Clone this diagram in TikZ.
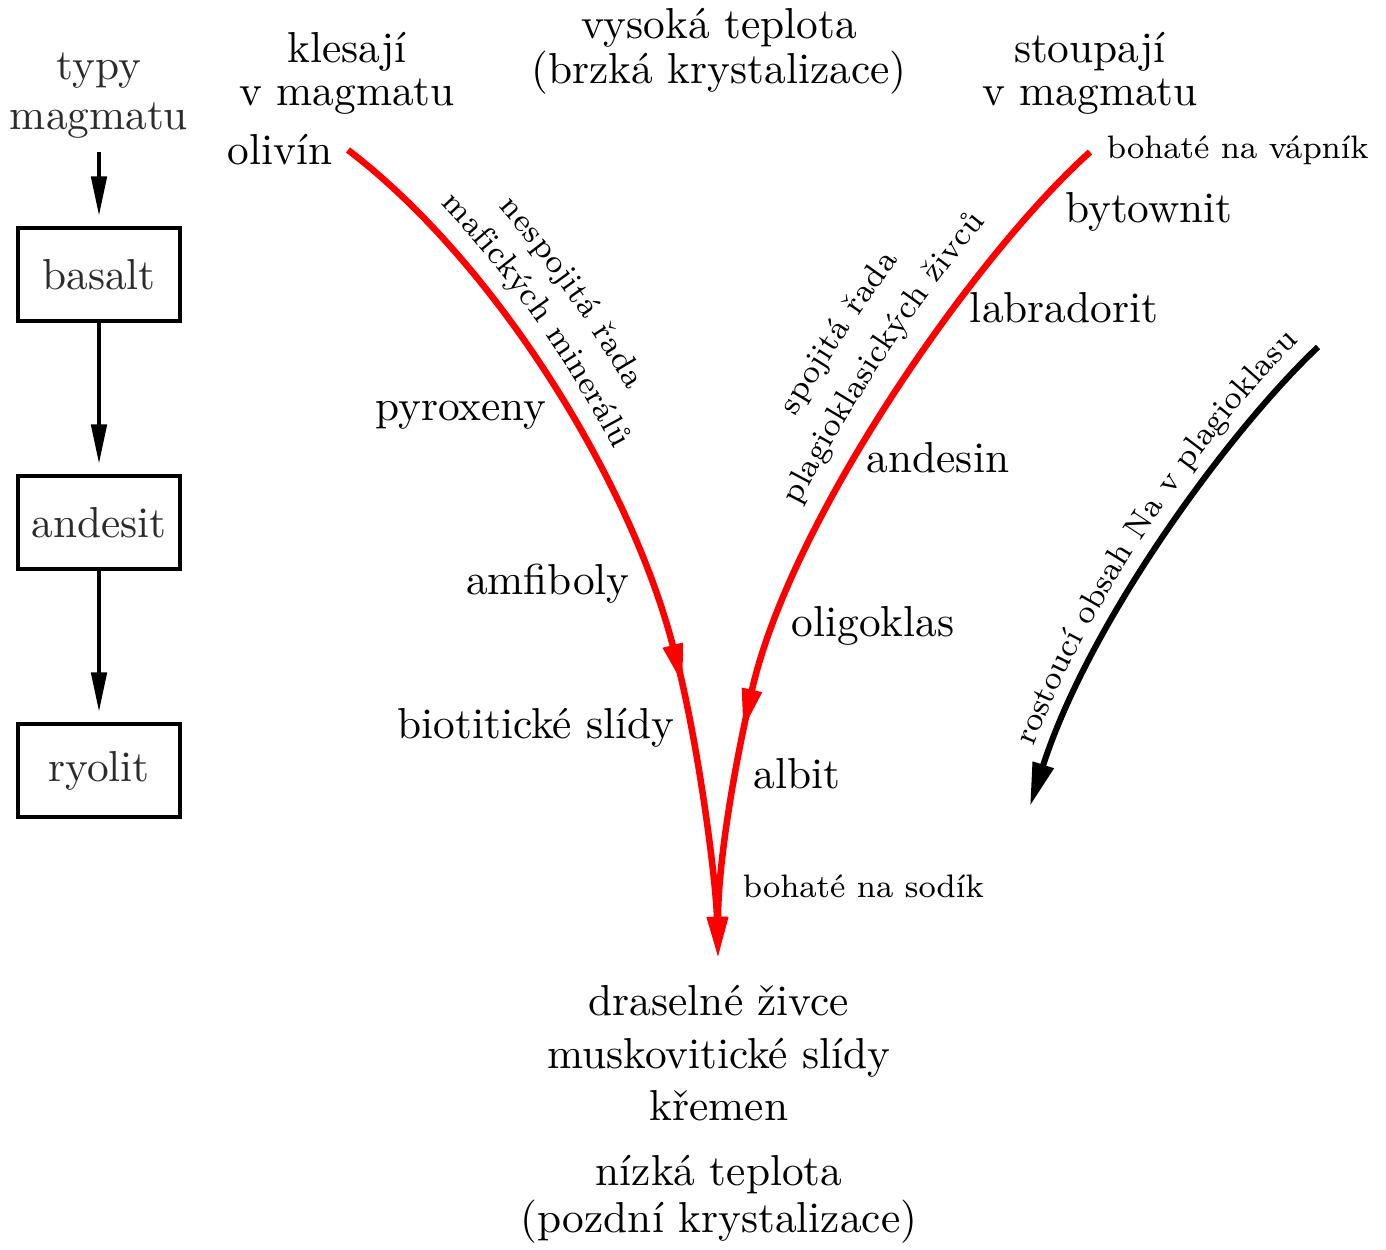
\documentclass[tikz,border=0pt]{standalone}
\usetikzlibrary{arrows.meta,decorations.text}
\definecolor{gtext}{gray}{0.17}
\newcommand\smfont{\fontsize{7.5}{9}\selectfont}
\begin{document}
\begin{tikzpicture}[x=0.2308pt,y=-0.2308pt,
  lbl/.style={anchor=base,inner sep=0pt},
  glbl/.style={lbl,text=gtext},
  box/.style={draw,line width=0.8pt,minimum width=37.4pt,minimum height=21.5pt,inner sep=0pt,text=gtext},
  garr/.style={line width=0.7pt,-{Triangle[length=9pt,width=3.6pt]}},
  redarr/.style={red,line width=1.5pt,-{Triangle[length=9.5pt,width=4.4pt]}},
  blkarr/.style={line width=1.4pt,-{Triangle[length=10pt,width=4.8pt]}},
  along/.style n args={3}{decorate,decoration={text along path,text={|\smfont|#1},raise=#2,text align={left indent=#3}}},
]
\useasboundingbox (0,0) rectangle (1386,1249);

% left column
\node[glbl] (typy1) at (99,79) {typy};
\node[glbl] (typy2) at (99,129) {magmatu};
\node[box] (basalt) at (99,274.5) {basalt};
\node[box] (andesit) at (99,522.5) {andesit};
\node[box] (ryolit) at (99,770.5) {ryolit};
\draw[garr,shorten <=3pt,shorten >=2.5pt] (typy2.south) -- (basalt.north);
\draw[garr,shorten >=2.5pt] (basalt.south) -- (andesit.north);
\draw[garr,shorten >=2.5pt] (andesit.south) -- (ryolit.north);

% top labels
\node[lbl] (kl1) at (347,62) {klesají};
\node[lbl] (kl2) at (347,105) {v magmatu};
\node[lbl] (vy1) at (719,38) {vysoká teplota};
\node[lbl] (vy2) at (719,83) {(brzká krystalizace)};
\node[lbl] (st1) at (1090,62) {stoupají};
\node[lbl] (st2) at (1090,105) {v magmatu};

% start / end points
\node[anchor=east,inner sep=3.4pt] (olivin) at (348,150) {olivín};
\node[anchor=west,inner sep=0pt,font=\smfont] (vapnik) at (1106,150) {bohaté na vápník};
\coordinate (cA) at (1090,152);
\coordinate (mL) at (683,685);
\coordinate (mLs) at (677,661);
\coordinate (mR) at (743,730);
\coordinate (mRs) at (748.5,705.6);
\coordinate (bot) at (718,958);

% red curves
\draw[redarr] (olivin.east) .. controls (495,262) and (630,480) .. (mL);
\draw[redarr] (cA) .. controls (975,255) and (790,520) .. (mR);
\draw[redarr] (mLs) .. controls (699,748) and (716,880) .. (bot);
\draw[redarr] (mRs) .. controls (731,784) and (718,870) .. (bot);

% black arrow
\coordinate (nA) at (1318,347);
\coordinate (nB) at (1030,806);
\draw[blkarr] (nA) .. controls (1230,430) and (1090,620) .. (nB);

% texts along the curves
\path[along={nespojitá řada}{14.4pt}{32.8pt}] (olivin.east) .. controls (495,262) and (630,480) .. (mL);
\path[along={mafických minerálů}{5pt}{23.7pt}] (olivin.east) .. controls (495,262) and (630,480) .. (mL);
\path[along={spojitá řada}{17pt}{69.5pt}] (mR) .. controls (790,520) and (975,255) .. (cA);
\path[along={plagioklasických živců}{6.5pt}{52.5pt}] (mR) .. controls (790,520) and (975,255) .. (cA);
\path[along={rostoucí obsah Na v plagioklasu}{4pt}{13pt}] (nB) .. controls (1090,620) and (1230,430) .. (nA);

% mineral labels left
\node[lbl] (pyr) at (461,420) {pyroxeny};
\node[lbl] (amf) at (548,594) {amfiboly};
\node[lbl] (bio) at (536,738) {biotitické slídy};

% mineral labels right
\node[lbl] (byt) at (1149,222) {bytownit};
\node[lbl] (lab) at (1064,322) {labradorit};
\node[lbl] (and) at (938,472) {andesin};
\node[lbl] (oli) at (873,636) {oligoklas};
\node[lbl] (alb) at (797,788) {albit};
\node[lbl,anchor=base west,font=\smfont] (sod) at (742,897) {bohaté na sodík};

% bottom
\node[lbl] (b1) at (719,1015) {draselné živce};
\node[lbl] (b2) at (719,1068) {muskovitické slídy};
\node[lbl] (b3) at (719,1120) {křemen};
\node[lbl] (n1) at (719,1185) {nízká teplota};
\node[lbl] (n2) at (719,1232) {(pozdní krystalizace)};
\end{tikzpicture}
\end{document}
